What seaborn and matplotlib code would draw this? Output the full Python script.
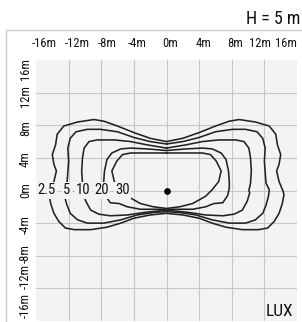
import numpy as np
import pandas as pd
import matplotlib
matplotlib.use('Agg')
import matplotlib.pyplot as plt
import seaborn as sns
from matplotlib.patches import Rectangle
from matplotlib import font_manager

# isolux levels and the right half of each contour (x>=0), from top centre round to bottom centre
levels = ['2.5', '5', '10', '20', '30']

x_25 = [0, 2.0, 4.0, 6.0, 7.7, 8.9, 10.9, 12.6, 13.4, 13.6, 14.0, 13.8, 13.5, 13.8, 14.3, 14.4,
        14.2, 13.8, 13.2, 12.4, 11.3, 9.3, 7.3, 5.6, 4.0, 2.0, 0]
y_25 = [6.0, 6.4, 7.1, 7.9, 8.5, 8.7, 8.4, 7.9, 6.9, 5.6, 4.4, 3.2, 2.4, 1.1, -0.1, -0.5,
        -1.6, -2.8, -3.8, -4.6, -4.8, -4.8, -4.5, -4.0, -3.4, -3.0, -2.8]

x_5 = [0, 2.0, 4.0, 6.0, 8.1, 9.7, 11.1, 11.8, 12.1, 12.0, 12.1, 12.2, 12.6, 12.5, 12.2,
       11.8, 10.9, 9.7, 7.7, 5.6, 3.6, 1.6, 0]
y_5 = [5.7, 6.0, 6.5, 7.2, 7.5, 7.5, 7.2, 6.4, 5.2, 3.6, 2.2, 0.9, 0.1, -0.7, -1.8,
       -2.8, -3.6, -4.0, -4.0, -3.6, -3.0, -2.7, -2.6]

x_10 = [0, 2.4, 4.4, 6.4, 8.5, 9.5, 10.1, 10.3, 10.4, 10.3, 10.1, 10.2, 9.9, 9.3, 8.3,
        6.9, 4.8, 2.8, 0]
y_10 = [5.2, 5.6, 6.0, 6.2, 6.2, 6.0, 5.2, 4.0, 2.4, 0.9, 0.0, -0.3, -1.3, -2.4, -2.9,
        -3.1, -3.0, -2.7, -2.4]

x_20 = [0, 2.4, 4.4, 5.6, 6.7, 7.3, 7.6, 7.7, 7.7, 7.5, 6.9, 5.8, 4.8, 3.2, 0]
y_20 = [4.9, 5.1, 5.2, 5.1, 4.6, 3.8, 2.4, 1.1, 0.3, -0.6, -1.5, -1.6, -2.0, -2.3, -2.3]

x_30 = [0, 2.4, 4.4, 5.4, 6.1, 6.7, 6.4, 5.6, 4.8, 3.2, 1.6, 0]
y_30 = [4.6, 4.6, 4.6, 4.4, 3.6, 2.4, 1.1, 0.1, -0.7, -1.6, -2.0, -2.2]

label_x = [-14.7, -12.2, -10.2, -8.0, -5.4]

x_ticks = [-16, -12, -8, -4, 0, 4, 8, 12, 16]
tick_text = ['-16m', '-12m', '-8m', '-4m', '0m', '4m', '8m', '12m', '16m']

halves = {'2.5': (x_25, y_25), '5': (x_5, y_5), '10': (x_10, y_10),
          '20': (x_20, y_20), '30': (x_30, y_30)}

rows = []
for lev, (hx, hy) in halves.items():
    # right half, then the mirrored left half back up to the start
    xs = list(hx) + [-v for v in hx[::-1]]
    ys = list(hy) + list(hy[::-1])
    for i, (a, b) in enumerate(zip(xs, ys)):
        rows.append({'level': lev, 'x': a, 'y': b, 'order': i})
df = pd.DataFrame(rows)

sns.set_theme(style='white')
names = {f.name for f in font_manager.fontManager.ttflist}
narrow = [n for n in ['Liberation Sans Narrow', 'Roboto Condensed', 'Open Sans Condensed']
          if n in names]
plt.rcParams['font.family'] = narrow + ['DejaVu Sans']
plt.rcParams['font.stretch'] = 'condensed'

bg = '#f3f3f3'
fig = plt.figure(figsize=(3.02, 3.22), dpi=100)
fig.patches.append(Rectangle((6 / 302, -0.05), 1.0, (322 - 30) / 322 + 0.05,
                             transform=fig.transFigure, fill=False,
                             edgecolor='#cfcfcf', lw=1.0))
ax = fig.add_axes([36 / 302, 1 / 322, 261 / 302, 261 / 322])
ax.set_facecolor(bg)

sns.lineplot(data=df, x='x', y='y', units='level', estimator=None, sort=False,
             color='#222222', lw=1.15, ax=ax, zorder=3, legend=False)

ax.plot([0], [0], 'o', color='black', ms=3.8, zorder=5)

ax.set_xlim(-16, 16)
ax.set_ylim(-16, 16)
ax.set_xticks(x_ticks)
ax.set_yticks(x_ticks)
ax.grid(True, color='#c6c6c6', lw=0.8, zorder=1)
ax.set_axisbelow(True)
for gl in ax.get_xgridlines()[::8] + ax.get_ygridlines()[::8]:
    gl.set_visible(False)
ax.tick_params(length=0, labelbottom=False, labelleft=False)
for s in ax.spines.values():
    s.set_visible(False)
ax.set_xlabel('')
ax.set_ylabel('')

# tick labels sit a little inside the grid ends
x_lab_pos = [-15.0, -11.0, -7.3, -3.6, 0.4, 4.5, 8.4, 11.5, 14.6]
y_lab_pos = [14.9, 11.6, 7.6, 3.9, 0.1, -4.2, -7.7, -10.6, -14.1]
for p, t in zip(x_lab_pos, tick_text):
    ax.text(p, 1.065, t, transform=ax.get_xaxis_transform(), ha='center', va='center',
            fontsize=9, color='#111111')
for p, t in zip(y_lab_pos, tick_text[::-1]):
    ax.text(-0.04, p, t, transform=ax.get_yaxis_transform(), ha='center', va='center',
            rotation=90, fontsize=9, color='#111111')

for p, t in zip(label_x, levels):
    ax.text(p, 0, t, ha='center', va='center', fontsize=10.5, color='#111111', zorder=6,
            bbox=dict(boxstyle='square,pad=0.08', fc=bg, ec='none'))

ax.text(0.985, 0.035, 'LUX', transform=ax.transAxes, ha='right', va='center',
        fontsize=12.5, color='#111111')
fig.text(0.995, (322 - 18.5) / 322, 'H = 5 m', ha='right', va='center',
         fontsize=13, color='#111111')

plt.savefig('out.png', dpi=100)
